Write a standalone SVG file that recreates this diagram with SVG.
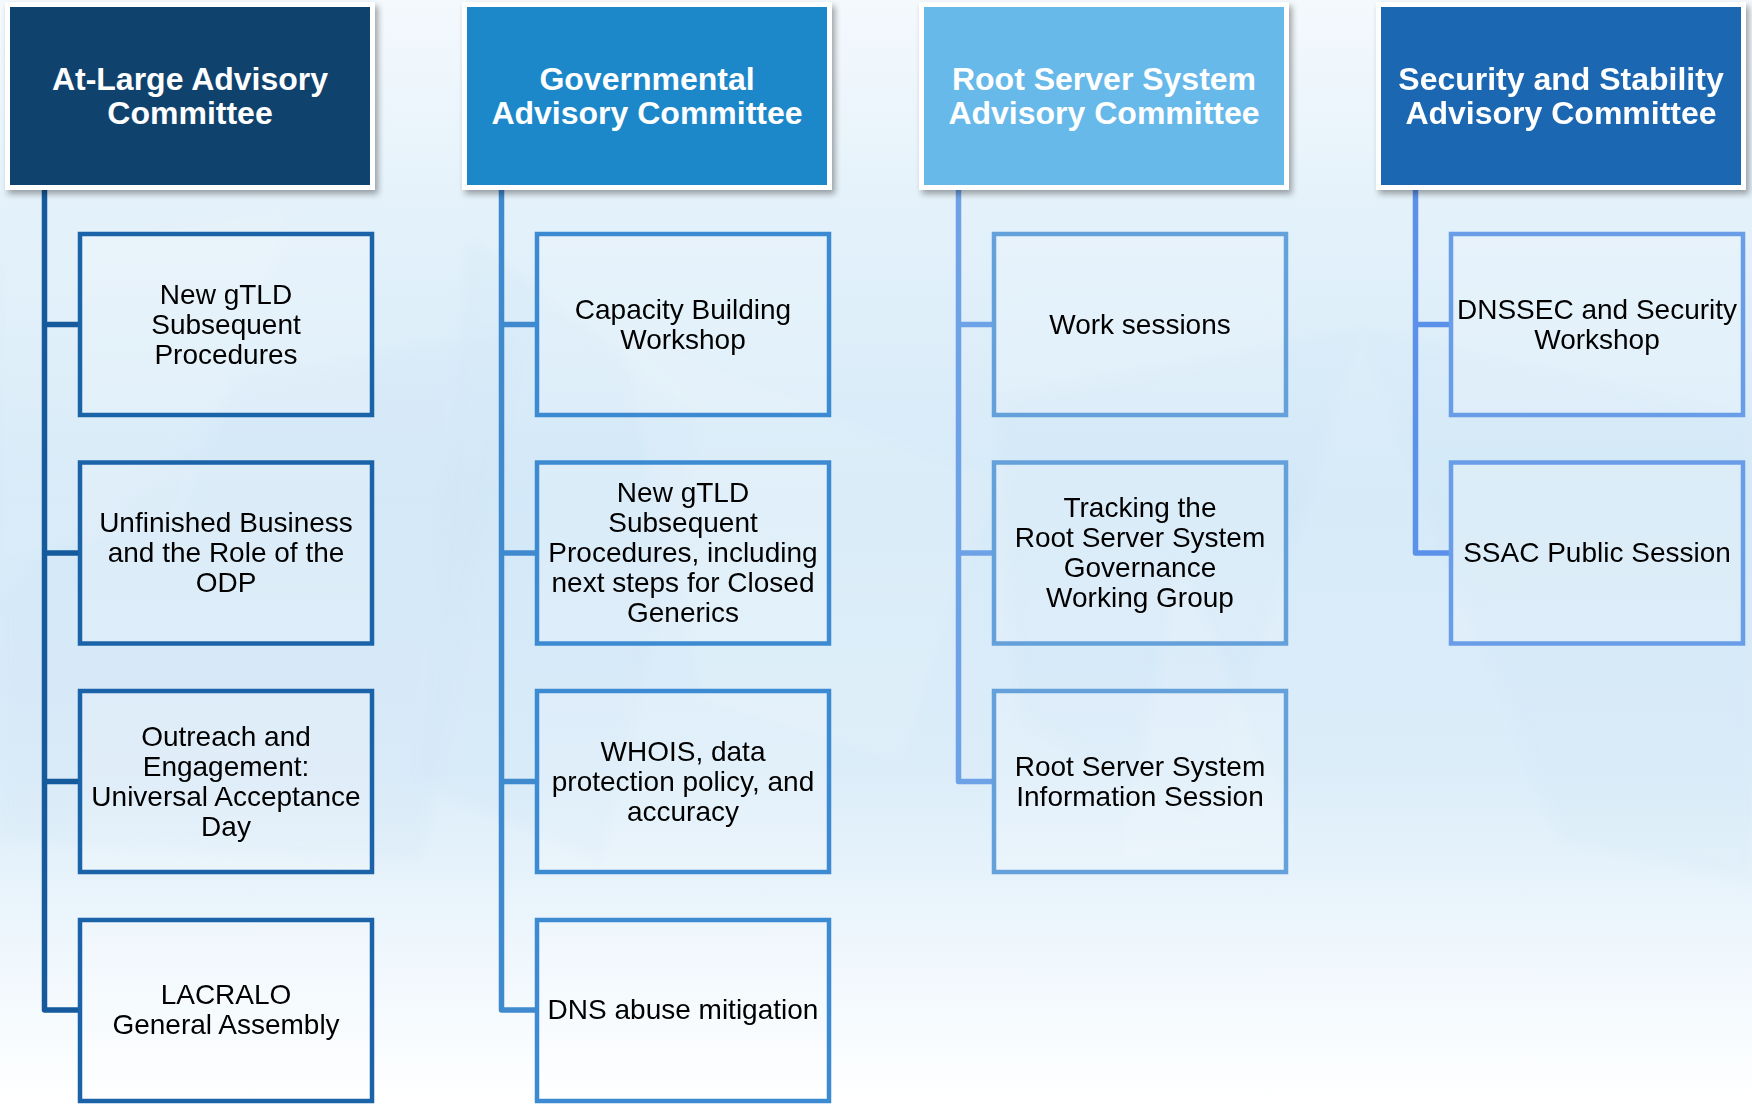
<svg xmlns="http://www.w3.org/2000/svg" width="1752" height="1104" viewBox="0 0 1752 1104">
  <defs>
    <linearGradient id="bg" x1="0" y1="0" x2="0" y2="1">
      <stop offset="0" stop-color="#f4f9fd"/>
      <stop offset="0.2" stop-color="#e3f1fa"/>
      <stop offset="0.45" stop-color="#d6eaf8"/>
      <stop offset="0.7" stop-color="#dcedf9"/>
      <stop offset="0.88" stop-color="#f1f8fd"/>
      <stop offset="1" stop-color="#ffffff"/>
    </linearGradient>
    <filter id="shadow" x="-10%" y="-10%" width="125%" height="130%">
      <feDropShadow dx="3" dy="4" stdDeviation="3" flood-color="#000000" flood-opacity="0.35"/>
    </filter>
    <filter id="soft" x="-20%" y="-20%" width="140%" height="140%">
      <feGaussianBlur stdDeviation="6"/>
    </filter>
    <style>
      .hdr-frame { fill: #ffffff; filter: url(#shadow); }
      .hdr-text { font-family: "Liberation Sans", Arial, sans-serif; font-weight: bold; font-size: 32px; fill: #ffffff; text-anchor: middle; }
      .box { fill: #ffffff; fill-opacity: 0.18; stroke-width: 4.5; }
      .box-text { font-family: "Liberation Sans", Arial, sans-serif; font-size: 28px; fill: #000000; text-anchor: middle; }
      .conn { fill: none; stroke-width: 5.5; stroke-linejoin: round; }
      .c1 { stroke: #155a9c; }
      .c2 { stroke: #3f89cf; }
      .c3 { stroke: #6ea2e6; }
      .c4 { stroke: #5b91ea; }
      .b1 { stroke: #1b63a9; }
      .b2 { stroke: #3c8bd2; }
      .b3 { stroke: #64a0da; }
      .b4 { stroke: #6a9de8; }
    </style>
  </defs>

  <!-- background -->
  <rect x="0" y="0" width="1752" height="1104" fill="url(#bg)"/>
  <g opacity="0.3" filter="url(#soft)">
    <polygon points="0,600 250,380 520,330 420,860 0,840" fill="#c8e0f5" opacity="0.5"/>
    <polygon points="470,240 700,420 600,860 420,780" fill="#c4ddf4" opacity="0.45"/>
    <polygon points="620,330 1000,480 900,760 700,700" fill="#ffffff" opacity="0.35"/>
    <polygon points="1000,400 1360,330 1200,820 1020,720" fill="#c2def4" opacity="0.45"/>
    <polygon points="1360,330 1752,420 1752,880 1560,840" fill="#c8e3f6" opacity="0.5"/>
    <polygon points="1180,560 1300,840 1120,860" fill="#ffffff" opacity="0.4"/>
    <polygon points="0,250 300,200 180,520 0,560" fill="#ffffff" opacity="0.25"/>
  </g>

  <!-- connectors -->
  <g id="connectors">
    <path class="conn c1" d="M44.5,188 V1010 H80 M44.5,324.5 H80 M44.5,553 H80 M44.5,781.5 H80"/>
    <path class="conn c2" d="M501.5,188 V1010 H537 M501.5,324.5 H537 M501.5,553 H537 M501.5,781.5 H537"/>
    <path class="conn c3" d="M958.5,188 V781.5 H994 M958.5,324.5 H994 M958.5,553 H994"/>
    <path class="conn c4" d="M1415.5,188 V553 H1451 M1415.5,324.5 H1451"/>
  </g>

  <!-- headers -->
  <g id="hdr-alac">
    <rect class="hdr-frame" x="5" y="2" width="370" height="188"/>
    <rect x="10" y="7" width="360" height="178" fill="#10426e"/>
    <text class="hdr-text" x="190" y="90">At-Large Advisory</text>
    <text class="hdr-text" x="190" y="124">Committee</text>
  </g>
  <g id="hdr-gac">
    <rect class="hdr-frame" x="462" y="2" width="370" height="188"/>
    <rect x="467" y="7" width="360" height="178" fill="#1c88c9"/>
    <text class="hdr-text" x="647" y="90">Governmental</text>
    <text class="hdr-text" x="647" y="124">Advisory Committee</text>
  </g>
  <g id="hdr-rssac">
    <rect class="hdr-frame" x="919" y="2" width="370" height="188"/>
    <rect x="924" y="7" width="360" height="178" fill="#67b9ea"/>
    <text class="hdr-text" x="1104" y="90">Root Server System</text>
    <text class="hdr-text" x="1104" y="124">Advisory Committee</text>
  </g>
  <g id="hdr-ssac">
    <rect class="hdr-frame" x="1376" y="2" width="370" height="188"/>
    <rect x="1381" y="7" width="360" height="178" fill="#1b67b1"/>
    <text class="hdr-text" x="1561" y="90">Security and Stability</text>
    <text class="hdr-text" x="1561" y="124">Advisory Committee</text>
  </g>

  <!-- column 1 -->
  <g id="alac-1">
    <rect class="box b1" x="80" y="234" width="292" height="181"/>
    <text class="box-text" x="226" y="303.5">New gTLD</text>
    <text class="box-text" x="226" y="333.5">Subsequent</text>
    <text class="box-text" x="226" y="363.5">Procedures</text>
  </g>
  <g id="alac-2">
    <rect class="box b1" x="80" y="462.5" width="292" height="181"/>
    <text class="box-text" x="226" y="532">Unfinished Business</text>
    <text class="box-text" x="226" y="562">and the Role of the</text>
    <text class="box-text" x="226" y="592">ODP</text>
  </g>
  <g id="alac-3">
    <rect class="box b1" x="80" y="691" width="292" height="181"/>
    <text class="box-text" x="226" y="745.5">Outreach and</text>
    <text class="box-text" x="226" y="775.5">Engagement:</text>
    <text class="box-text" x="226" y="805.5">Universal Acceptance</text>
    <text class="box-text" x="226" y="835.5">Day</text>
  </g>
  <g id="alac-4">
    <rect class="box b1" x="80" y="920" width="292" height="181"/>
    <text class="box-text" x="226" y="1004">LACRALO</text>
    <text class="box-text" x="226" y="1034">General Assembly</text>
  </g>

  <!-- column 2 -->
  <g id="gac-1">
    <rect class="box b2" x="537" y="234" width="292" height="181"/>
    <text class="box-text" x="683" y="318.5">Capacity Building</text>
    <text class="box-text" x="683" y="348.5">Workshop</text>
  </g>
  <g id="gac-2">
    <rect class="box b2" x="537" y="462.5" width="292" height="181"/>
    <text class="box-text" x="683" y="502">New gTLD</text>
    <text class="box-text" x="683" y="532">Subsequent</text>
    <text class="box-text" x="683" y="562">Procedures, including</text>
    <text class="box-text" x="683" y="592">next steps for Closed</text>
    <text class="box-text" x="683" y="622">Generics</text>
  </g>
  <g id="gac-3">
    <rect class="box b2" x="537" y="691" width="292" height="181"/>
    <text class="box-text" x="683" y="760.5">WHOIS, data</text>
    <text class="box-text" x="683" y="790.5">protection policy, and</text>
    <text class="box-text" x="683" y="820.5">accuracy</text>
  </g>
  <g id="gac-4">
    <rect class="box b2" x="537" y="920" width="292" height="181"/>
    <text class="box-text" x="683" y="1019">DNS abuse mitigation</text>
  </g>

  <!-- column 3 -->
  <g id="rssac-1">
    <rect class="box b3" x="994" y="234" width="292" height="181"/>
    <text class="box-text" x="1140" y="333.5">Work sessions</text>
  </g>
  <g id="rssac-2">
    <rect class="box b3" x="994" y="462.5" width="292" height="181"/>
    <text class="box-text" x="1140" y="517">Tracking the</text>
    <text class="box-text" x="1140" y="547">Root Server System</text>
    <text class="box-text" x="1140" y="577">Governance</text>
    <text class="box-text" x="1140" y="607">Working Group</text>
  </g>
  <g id="rssac-3">
    <rect class="box b3" x="994" y="691" width="292" height="181"/>
    <text class="box-text" x="1140" y="775.5">Root Server System</text>
    <text class="box-text" x="1140" y="805.5">Information Session</text>
  </g>

  <!-- column 4 -->
  <g id="ssac-1">
    <rect class="box b4" x="1451" y="234" width="292" height="181"/>
    <text class="box-text" x="1597" y="318.5">DNSSEC and Security</text>
    <text class="box-text" x="1597" y="348.5">Workshop</text>
  </g>
  <g id="ssac-2">
    <rect class="box b4" x="1451" y="462.5" width="292" height="181"/>
    <text class="box-text" x="1597" y="562">SSAC Public Session</text>
  </g>
</svg>
